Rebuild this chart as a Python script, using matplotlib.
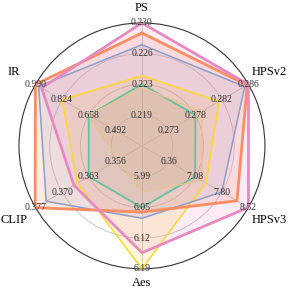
import numpy as np
import matplotlib
matplotlib.use("Agg")
import matplotlib.pyplot as plt

# Axes (clockwise from top)
categories = ["PS", "HPSv2", "HPSv3", "Aes", "CLIP", "IR"]
# per-axis ring range: value at ring 1 (lo) and ring 4 (hi)
ring_lo = [0.219, 0.2734, 6.36, 5.986, 0.356, 0.492]
ring_hi = [0.230, 0.2862, 8.52, 6.192, 0.377, 0.990]
tick_labels = [
    ["0.219", "0.223", "0.226", "0.230"],
    ["0.273", "0.278", "0.282", "0.286"],
    ["6.36", "7.08", "7.80", "8.52"],
    ["5.99", "6.05", "6.12", "6.19"],
    ["0.356", "0.363", "0.370", "0.377"],
    ["0.492", "0.658", "0.824", "0.990"],
]

# series values (PS, HPSv2, HPSv3, Aes, CLIP, IR)
green = [0.2227, 0.2777, 7.08, 6.055, 0.363, 0.658]
tan = [0.2223, 0.2787, 7.26, 6.020, 0.3553, 0.658]
yellow = [0.2237, 0.2815, 7.37, 6.192, 0.3660, 0.824]
blue = [0.2274, 0.2856, 7.80, 6.079, 0.3742, 0.970]
orange = [0.2288, 0.2860, 8.21, 6.065, 0.3771, 0.990]
pink = [0.2300, 0.2862, 8.52, 6.156, 0.3669, 0.952]

series = [
    (green, "#66c2a5", 1.3),
    (tan, "#e5c494", 1.0),
    (yellow, "#ffd92f", 1.1),
    (blue, "#8da0cb", 1.1),
    (orange, "#fc8d62", 2.0),
    (pink, "#e78ac3", 2.0),
]

def to_r(vals):
    return [1 + 3 * (v - lo) / (hi - lo) for v, lo, hi in zip(vals, ring_lo, ring_hi)]

n = len(categories)
angles = np.linspace(0, 2 * np.pi, n, endpoint=False)

fig = plt.figure(figsize=(2.89, 2.93), dpi=100)
ax = fig.add_axes([0.0657, 0.082, 0.851, 0.84], projection="polar")
ax.set_theta_offset(np.pi / 2)
ax.set_theta_direction(-1)
ax.set_ylim(0, 4)

for vals, col, lw in series:
    r = to_r(vals)
    rr = r + r[:1]
    aa = list(angles) + [angles[0]]
    ax.fill(aa, rr, color=col, alpha=0.17, zorder=2)
    ax.plot(aa, rr, color=col, lw=lw, zorder=3)

ax.set_xticks(angles)
ax.set_xticklabels([])
ax.set_yticks([1, 2, 3])
ax.set_yticklabels([])
ax.grid(True, color="#c8c8c8", lw=0.7)
ax.spines["polar"].set_color("#333333")
ax.spines["polar"].set_linewidth(0.8)

serif = ["Liberation Serif", "DejaVu Serif"]
for i, a in enumerate(angles):
    for k, lab in enumerate(tick_labels[i]):
        ax.text(a, k + 1, lab, ha="center", va="center", fontsize=7,
                family=serif, color="#333333", zorder=5)

label_pos = [4.48, 4.8, 4.8, 4.45, 4.8, 4.8]
for i, a in enumerate(angles):
    ax.text(a, label_pos[i], categories[i], ha="center", va="center",
            fontsize=9, family=serif, color="black")

fig.savefig("out.png", dpi=100)
